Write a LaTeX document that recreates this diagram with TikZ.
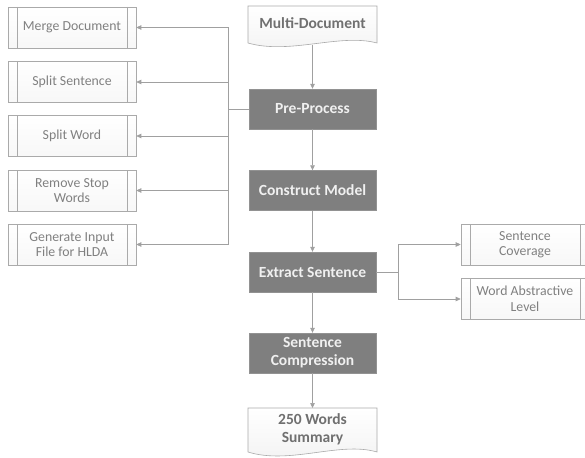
\documentclass[tikz,border=0pt]{standalone}
\usepackage{fontspec}
\setmainfont{Carlito}
\usetikzlibrary{arrows.meta}
\definecolor{darkfill}{RGB}{127,127,127}
\definecolor{darktext}{RGB}{240,240,240}
\definecolor{boxline}{RGB}{170,170,170}
\definecolor{lighttext}{RGB}{128,128,128}
\definecolor{doctext}{RGB}{112,112,112}
\definecolor{conn}{RGB}{160,160,160}
\tikzset{
  darkbox/.style={draw=darkfill!85!white, fill=darkfill, minimum width=127pt, minimum height=40pt,
    text=darktext, font=\fontsize{15.5}{18}\selectfont\bfseries, align=center, inner sep=0pt},
  subbox/.style={draw=boxline, top color=white, bottom color=black!3, minimum width=128pt, minimum height=41pt,
    text=lighttext, font=\fontsize{13.8}{15.5}\selectfont, align=center, inner sep=0pt, line width=0.6pt,
    path picture={
      \draw[boxline, line width=0.6pt] ([xshift=9pt]path picture bounding box.north west) -- ([xshift=9pt]path picture bounding box.south west);
      \draw[boxline, line width=0.6pt] ([xshift=-9pt]path picture bounding box.north east) -- ([xshift=-9pt]path picture bounding box.south east);
    }},
  docshape/.style={draw=boxline, line width=0.6pt, top color=white, bottom color=black!5},
  doclabel/.style={text=doctext, font=\fontsize{15.5}{17.7}\selectfont\bfseries, align=center, inner sep=0pt},
  conline/.style={draw=conn, line width=0.7pt},
  arr/.style={conline, -{Triangle[length=5pt,width=4.5pt]}}
}
\begin{document}
\begin{tikzpicture}[x=1pt, y=-1pt]
\useasboundingbox (0,0) rectangle (585,457);
\clip (0,0) rectangle (585,457);
\fill[white] (0,0) rectangle (585,457);

% document shapes
\path[docshape] (248,6) -- (377,6) -- (377,43) .. controls (340,33) and (290,55) .. (248,43) -- cycle;
\node[doclabel] (mdoc) at (312.5,23.5) {Multi-Document};
\coordinate (mdocb) at (312.5,45.5);

\path[docshape] (248,408) -- (377,408) -- (377,452) .. controls (340,441) and (290,465) .. (248,452) -- cycle;
\node[doclabel] (sum) at (312.5,429) {250 Words\\Summary};
\coordinate (sumt) at (312.5,408);

% main process boxes
\node[darkbox] (pre) at (312.5,109) {Pre-Process};
\node[darkbox] (cm) at (312.5,190.5) {Construct Model};
\node[darkbox] (es) at (312.5,272) {Extract Sentence};
\node[darkbox] (sc) at (312.5,353) {Sentence\\Compression};

% left sub boxes
\node[subbox] (merge) at (72,27.5) {Merge Document};
\node[subbox] (ssent) at (72,82) {Split Sentence};
\node[subbox] (sword) at (72,136) {Split Word};
\node[subbox] (stop) at (72,190.5) {Remove Stop\\Words};
\node[subbox] (hlda) at (72,244.5) {Generate Input\\File for HLDA};

% right sub boxes
\node[subbox] (cov) at (525,244.5) {Sentence\\Coverage};
\node[subbox] (wal) at (525,299) {Word Abstractive\\Level};

% main flow
\draw[arr] (mdocb) -- (pre.north);
\draw[arr] (pre.south) -- (cm.north);
\draw[arr] (cm.south) -- (es.north);
\draw[arr] (es.south) -- (sc.north);
\draw[arr] (sc.south) -- (sumt);

% left branch
\coordinate (jl) at (228,109);
\draw[conline] (pre.west) -- (jl);
\draw[arr] (jl) |- (merge.east);
\draw[arr] (jl) |- (ssent.east);
\draw[arr] (jl) |- (sword.east);
\draw[arr] (jl) |- (stop.east);
\draw[arr] (jl) |- (hlda.east);

% right branch
\coordinate (jr) at (398,272);
\draw[conline] (es.east) -- (jr);
\draw[arr] (jr) |- (cov.west);
\draw[arr] (jr) |- (wal.west);
\end{tikzpicture}
\end{document}
